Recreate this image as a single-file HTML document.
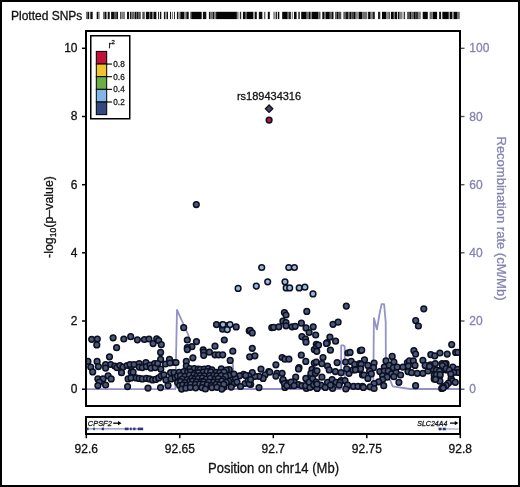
<!DOCTYPE html>
<html><head><meta charset="utf-8"><style>
html,body{margin:0;padding:0;background:#fff;}
svg{display:block;will-change:transform;}
</style></head><body>
<svg width="520" height="487" viewBox="0 0 520 487" font-family='"Liberation Sans", sans-serif'><rect x="0" y="0" width="520" height="487" fill="#fff"/><rect x="1" y="1" width="518" height="485" fill="none" stroke="#000" stroke-width="2"/><text x="11" y="19.6" font-size="12" fill="#111" stroke="#111" stroke-width="0.3">Plotted SNPs</text><rect x="86.0" y="11.8" width="1.50" height="7.3" fill="#6e6e6e"/><rect x="87.5" y="11.8" width="1.70" height="7.3" fill="#0f0f0f"/><rect x="90.3" y="11.8" width="2.40" height="7.3" fill="#0f0f0f"/><rect x="96.7" y="11.8" width="1.70" height="7.3" fill="#0f0f0f"/><rect x="98.4" y="11.8" width="1.20" height="7.3" fill="#6e6e6e"/><rect x="103.0" y="11.8" width="1.50" height="7.3" fill="#6e6e6e"/><rect x="104.5" y="11.8" width="2.00" height="7.3" fill="#0f0f0f"/><rect x="107.7" y="11.8" width="2.00" height="7.3" fill="#0f0f0f"/><rect x="111.1" y="11.8" width="2.90" height="7.3" fill="#0f0f0f"/><rect x="114.0" y="11.8" width="2.30" height="7.3" fill="#5a5a5a"/><rect x="116.3" y="11.8" width="1.70" height="7.3" fill="#141414"/><rect x="120.1" y="11.8" width="1.10" height="7.3" fill="#3c3c3c"/><rect x="121.2" y="11.8" width="2.30" height="7.3" fill="#828282"/><rect x="123.5" y="11.8" width="1.20" height="7.3" fill="#464646"/><rect x="127.0" y="11.8" width="2.00" height="7.3" fill="#0f0f0f"/><rect x="129.9" y="11.8" width="1.40" height="7.3" fill="#141414"/><rect x="131.3" y="11.8" width="3.50" height="7.3" fill="#646464"/><rect x="135.0" y="11.8" width="1.50" height="7.3" fill="#0a0a0a"/><rect x="136.8" y="11.8" width="1.40" height="7.3" fill="#141414"/><rect x="138.2" y="11.8" width="2.60" height="7.3" fill="#505050"/><rect x="142.3" y="11.8" width="1.70" height="7.3" fill="#505050"/><rect x="144.0" y="11.8" width="1.20" height="7.3" fill="#787878"/><rect x="146.0" y="11.8" width="3.20" height="7.3" fill="#0a0a0a"/><rect x="149.2" y="11.8" width="0.90" height="7.3" fill="#646464"/><rect x="150.1" y="11.8" width="2.00" height="7.3" fill="#0a0a0a"/><rect x="152.1" y="11.8" width="1.70" height="7.3" fill="#6e6e6e"/><rect x="153.8" y="11.8" width="2.60" height="7.3" fill="#0a0a0a"/><rect x="158.1" y="11.8" width="1.00" height="7.3" fill="#141414"/><rect x="160.0" y="11.8" width="1.30" height="7.3" fill="#141414"/><rect x="163.9" y="11.8" width="1.50" height="7.3" fill="#141414"/><rect x="165.4" y="11.8" width="1.40" height="7.3" fill="#8c8c8c"/><rect x="166.8" y="11.8" width="1.20" height="7.3" fill="#141414"/><rect x="170.0" y="11.8" width="1.10" height="7.3" fill="#141414"/><rect x="172.0" y="11.8" width="0.90" height="7.3" fill="#6e6e6e"/><rect x="174.0" y="11.8" width="0.90" height="7.3" fill="#141414"/><rect x="176.9" y="11.8" width="1.10" height="7.3" fill="#141414"/><rect x="178.0" y="11.8" width="1.80" height="7.3" fill="#969696"/><rect x="179.8" y="11.8" width="1.10" height="7.3" fill="#3c3c3c"/><rect x="180.9" y="11.8" width="3.20" height="7.3" fill="#0a0a0a"/><rect x="184.1" y="11.8" width="2.30" height="7.3" fill="#828282"/><rect x="186.4" y="11.8" width="2.30" height="7.3" fill="#0f0f0f"/><rect x="190.2" y="11.8" width="1.10" height="7.3" fill="#646464"/><rect x="191.3" y="11.8" width="10.40" height="7.3" fill="#050505"/><rect x="202.9" y="11.8" width="3.40" height="7.3" fill="#0f0f0f"/><rect x="208.9" y="11.8" width="1.20" height="7.3" fill="#141414"/><rect x="210.1" y="11.8" width="1.40" height="7.3" fill="#6e6e6e"/><rect x="211.5" y="11.8" width="0.60" height="7.3" fill="#282828"/><rect x="212.1" y="11.8" width="0.60" height="7.3" fill="#6e6e6e"/><rect x="212.7" y="11.8" width="1.70" height="7.3" fill="#141414"/><rect x="214.4" y="11.8" width="1.70" height="7.3" fill="#787878"/><rect x="216.1" y="11.8" width="20.80" height="7.3" fill="#050505"/><rect x="236.9" y="11.8" width="1.70" height="7.3" fill="#828282"/><rect x="239.8" y="11.8" width="1.40" height="7.3" fill="#282828"/><rect x="242.9" y="11.8" width="2.10" height="7.3" fill="#0a0a0a"/><rect x="245.0" y="11.8" width="2.00" height="7.3" fill="#5a5a5a"/><rect x="247.0" y="11.8" width="6.00" height="7.3" fill="#050505"/><rect x="253.0" y="11.8" width="1.50" height="7.3" fill="#969696"/><rect x="254.8" y="11.8" width="2.00" height="7.3" fill="#0a0a0a"/><rect x="258.8" y="11.8" width="3.20" height="7.3" fill="#0f0f0f"/><rect x="262.0" y="11.8" width="0.90" height="7.3" fill="#969696"/><rect x="264.0" y="11.8" width="1.40" height="7.3" fill="#646464"/><rect x="267.8" y="11.8" width="2.00" height="7.3" fill="#0a0a0a"/><rect x="273.2" y="11.8" width="2.30" height="7.3" fill="#8c8c8c"/><rect x="275.8" y="11.8" width="1.20" height="7.3" fill="#282828"/><rect x="277.8" y="11.8" width="1.50" height="7.3" fill="#0a0a0a"/><rect x="282.2" y="11.8" width="5.50" height="7.3" fill="#050505"/><rect x="287.7" y="11.8" width="1.40" height="7.3" fill="#6e6e6e"/><rect x="289.1" y="11.8" width="1.70" height="7.3" fill="#0a0a0a"/><rect x="291.7" y="11.8" width="1.20" height="7.3" fill="#828282"/><rect x="294.0" y="11.8" width="2.60" height="7.3" fill="#0a0a0a"/><rect x="298.3" y="11.8" width="1.50" height="7.3" fill="#1e1e1e"/><rect x="301.2" y="11.8" width="5.50" height="7.3" fill="#050505"/><rect x="306.7" y="11.8" width="2.00" height="7.3" fill="#6e6e6e"/><rect x="308.7" y="11.8" width="2.00" height="7.3" fill="#0a0a0a"/><rect x="310.7" y="11.8" width="1.20" height="7.3" fill="#828282"/><rect x="311.9" y="11.8" width="6.30" height="7.3" fill="#050505"/><rect x="318.2" y="11.8" width="2.30" height="7.3" fill="#5a5a5a"/><rect x="322.3" y="11.8" width="1.70" height="7.3" fill="#0a0a0a"/><rect x="324.0" y="11.8" width="1.70" height="7.3" fill="#6e6e6e"/><rect x="325.7" y="11.8" width="4.10" height="7.3" fill="#050505"/><rect x="329.8" y="11.8" width="1.70" height="7.3" fill="#646464"/><rect x="331.5" y="11.8" width="2.00" height="7.3" fill="#0f0f0f"/><rect x="335.0" y="11.8" width="1.70" height="7.3" fill="#5a5a5a"/><rect x="336.7" y="11.8" width="1.40" height="7.3" fill="#0f0f0f"/><rect x="338.1" y="11.8" width="3.20" height="7.3" fill="#505050"/><rect x="343.3" y="11.8" width="2.60" height="7.3" fill="#5a5a5a"/><rect x="345.9" y="11.8" width="2.30" height="7.3" fill="#141414"/><rect x="348.2" y="11.8" width="1.20" height="7.3" fill="#646464"/><rect x="349.4" y="11.8" width="2.00" height="7.3" fill="#0a0a0a"/><rect x="351.4" y="11.8" width="2.60" height="7.3" fill="#464646"/><rect x="354.0" y="11.8" width="1.70" height="7.3" fill="#0a0a0a"/><rect x="355.7" y="11.8" width="3.20" height="7.3" fill="#8c8c8c"/><rect x="358.9" y="11.8" width="3.20" height="7.3" fill="#050505"/><rect x="362.1" y="11.8" width="5.20" height="7.3" fill="#6e6e6e"/><rect x="368.1" y="11.8" width="2.60" height="7.3" fill="#0a0a0a"/><rect x="370.7" y="11.8" width="1.80" height="7.3" fill="#8c8c8c"/><rect x="372.5" y="11.8" width="2.30" height="7.3" fill="#1e1e1e"/><rect x="378.0" y="11.8" width="2.30" height="7.3" fill="#282828"/><rect x="382.0" y="11.8" width="4.00" height="7.3" fill="#050505"/><rect x="386.0" y="11.8" width="2.60" height="7.3" fill="#8c8c8c"/><rect x="388.6" y="11.8" width="1.20" height="7.3" fill="#323232"/><rect x="390.9" y="11.8" width="2.90" height="7.3" fill="#050505"/><rect x="393.8" y="11.8" width="1.20" height="7.3" fill="#787878"/><rect x="395.0" y="11.8" width="2.00" height="7.3" fill="#0a0a0a"/><rect x="397.8" y="11.8" width="1.80" height="7.3" fill="#0f0f0f"/><rect x="399.6" y="11.8" width="2.90" height="7.3" fill="#828282"/><rect x="403.6" y="11.8" width="1.50" height="7.3" fill="#3c3c3c"/><rect x="407.1" y="11.8" width="2.30" height="7.3" fill="#505050"/><rect x="409.4" y="11.8" width="2.00" height="7.3" fill="#0a0a0a"/><rect x="411.4" y="11.8" width="2.60" height="7.3" fill="#646464"/><rect x="414.0" y="11.8" width="1.70" height="7.3" fill="#0a0a0a"/><rect x="415.7" y="11.8" width="2.90" height="7.3" fill="#323232"/><rect x="418.6" y="11.8" width="2.30" height="7.3" fill="#828282"/><rect x="422.7" y="11.8" width="5.10" height="7.3" fill="#0a0a0a"/><rect x="429.6" y="11.8" width="2.30" height="7.3" fill="#646464"/><rect x="432.5" y="11.8" width="4.60" height="7.3" fill="#050505"/><rect x="439.1" y="11.8" width="2.00" height="7.3" fill="#141414"/><rect x="442.3" y="11.8" width="0.70" height="7.3" fill="#141414"/><rect x="443.0" y="11.8" width="5.80" height="7.3" fill="#050505"/><rect x="448.8" y="11.8" width="1.20" height="7.3" fill="#969696"/><rect x="450.0" y="11.8" width="2.30" height="7.3" fill="#0a0a0a"/><rect x="452.3" y="11.8" width="1.50" height="7.3" fill="#828282"/><rect x="453.8" y="11.8" width="3.20" height="7.3" fill="#050505"/><rect x="457.0" y="11.8" width="2.80" height="7.3" fill="#6e6e6e"/><polyline points="86.0,389.1 175.4,389.0 177.0,309.8 188.3,335.0 189.2,338.5" fill="none" stroke="#9492c8" stroke-width="1.8" stroke-linejoin="round"/><polyline points="193.0,389.0 232.0,389.0 232.8,363.0 234.0,389.0 340.9,389.0 341.2,345.3 343.2,345.3 344.7,346.5 345.0,389.0 373.3,389.0 373.9,318.1 376.9,329.4 379.8,312.5 381.6,304.2 384.1,304.2 385.7,322.0 385.9,375.0 390.5,381.0 392.7,386.3 410.0,389.0 460.0,389.0" fill="none" stroke="#9492c8" stroke-width="1.8" stroke-linejoin="round"/><defs><clipPath id="pc"><rect x="86" y="31" width="374" height="375"/></clipPath></defs><g clip-path="url(#pc)"><circle cx="196.3" cy="204.6" r="2.85" fill="#4b5778" stroke="#0c1020" stroke-width="1.5"/><circle cx="91.7" cy="339.3" r="2.85" fill="#4b5778" stroke="#0c1020" stroke-width="1.5"/><circle cx="97.3" cy="339.0" r="2.85" fill="#4b5778" stroke="#0c1020" stroke-width="1.5"/><circle cx="96.8" cy="344.9" r="2.85" fill="#4b5778" stroke="#0c1020" stroke-width="1.5"/><circle cx="113.1" cy="337.8" r="2.85" fill="#4b5778" stroke="#0c1020" stroke-width="1.5"/><circle cx="123.8" cy="339.0" r="2.85" fill="#4b5778" stroke="#0c1020" stroke-width="1.5"/><circle cx="130.7" cy="336.7" r="2.85" fill="#4b5778" stroke="#0c1020" stroke-width="1.5"/><circle cx="116.6" cy="347.7" r="2.85" fill="#4b5778" stroke="#0c1020" stroke-width="1.5"/><circle cx="109.5" cy="356.8" r="2.85" fill="#4b5778" stroke="#0c1020" stroke-width="1.5"/><circle cx="87.9" cy="361.4" r="2.85" fill="#4b5778" stroke="#0c1020" stroke-width="1.5"/><circle cx="97.1" cy="361.4" r="2.85" fill="#4b5778" stroke="#0c1020" stroke-width="1.5"/><circle cx="90.7" cy="367.1" r="2.85" fill="#4b5778" stroke="#0c1020" stroke-width="1.5"/><circle cx="98.4" cy="366.6" r="2.85" fill="#4b5778" stroke="#0c1020" stroke-width="1.5"/><circle cx="92.7" cy="371.9" r="2.85" fill="#4b5778" stroke="#0c1020" stroke-width="1.5"/><circle cx="105.6" cy="364.5" r="2.85" fill="#4b5778" stroke="#0c1020" stroke-width="1.5"/><circle cx="105.6" cy="368.1" r="2.85" fill="#4b5778" stroke="#0c1020" stroke-width="1.5"/><circle cx="110.7" cy="364.5" r="2.85" fill="#4b5778" stroke="#0c1020" stroke-width="1.5"/><circle cx="114.8" cy="366.0" r="2.85" fill="#4b5778" stroke="#0c1020" stroke-width="1.5"/><circle cx="116.9" cy="367.6" r="2.85" fill="#4b5778" stroke="#0c1020" stroke-width="1.5"/><circle cx="119.9" cy="365.5" r="2.85" fill="#4b5778" stroke="#0c1020" stroke-width="1.5"/><circle cx="123.0" cy="367.1" r="2.85" fill="#4b5778" stroke="#0c1020" stroke-width="1.5"/><circle cx="121.5" cy="372.7" r="2.85" fill="#4b5778" stroke="#0c1020" stroke-width="1.5"/><circle cx="127.1" cy="365.5" r="2.85" fill="#4b5778" stroke="#0c1020" stroke-width="1.5"/><circle cx="131.2" cy="366.6" r="2.85" fill="#4b5778" stroke="#0c1020" stroke-width="1.5"/><circle cx="131.2" cy="372.2" r="2.85" fill="#4b5778" stroke="#0c1020" stroke-width="1.5"/><circle cx="128.1" cy="378.9" r="2.85" fill="#4b5778" stroke="#0c1020" stroke-width="1.5"/><circle cx="97.9" cy="378.9" r="2.85" fill="#4b5778" stroke="#0c1020" stroke-width="1.5"/><circle cx="103.0" cy="378.9" r="2.85" fill="#4b5778" stroke="#0c1020" stroke-width="1.5"/><circle cx="108.1" cy="375.8" r="2.85" fill="#4b5778" stroke="#0c1020" stroke-width="1.5"/><circle cx="111.2" cy="378.9" r="2.85" fill="#4b5778" stroke="#0c1020" stroke-width="1.5"/><circle cx="99.4" cy="382.0" r="2.85" fill="#4b5778" stroke="#0c1020" stroke-width="1.5"/><circle cx="97.9" cy="385.6" r="2.85" fill="#4b5778" stroke="#0c1020" stroke-width="1.5"/><circle cx="105.6" cy="385.0" r="2.85" fill="#4b5778" stroke="#0c1020" stroke-width="1.5"/><circle cx="127.6" cy="386.6" r="2.85" fill="#4b5778" stroke="#0c1020" stroke-width="1.5"/><circle cx="137.4" cy="339.8" r="2.85" fill="#4b5778" stroke="#0c1020" stroke-width="1.5"/><circle cx="144.4" cy="339.5" r="2.85" fill="#4b5778" stroke="#0c1020" stroke-width="1.5"/><circle cx="149.0" cy="339.0" r="2.85" fill="#4b5778" stroke="#0c1020" stroke-width="1.5"/><circle cx="153.1" cy="343.6" r="2.85" fill="#4b5778" stroke="#0c1020" stroke-width="1.5"/><circle cx="156.7" cy="338.8" r="2.85" fill="#4b5778" stroke="#0c1020" stroke-width="1.5"/><circle cx="158.7" cy="340.6" r="2.85" fill="#4b5778" stroke="#0c1020" stroke-width="1.5"/><circle cx="161.3" cy="344.7" r="2.85" fill="#4b5778" stroke="#0c1020" stroke-width="1.5"/><circle cx="160.6" cy="352.4" r="2.85" fill="#4b5778" stroke="#0c1020" stroke-width="1.5"/><circle cx="160.6" cy="359.4" r="2.85" fill="#4b5778" stroke="#0c1020" stroke-width="1.5"/><circle cx="169.5" cy="359.4" r="2.85" fill="#4b5778" stroke="#0c1020" stroke-width="1.5"/><circle cx="174.7" cy="362.5" r="2.85" fill="#4b5778" stroke="#0c1020" stroke-width="1.5"/><circle cx="130.0" cy="364.5" r="2.85" fill="#4b5778" stroke="#0c1020" stroke-width="1.5"/><circle cx="134.1" cy="364.5" r="2.85" fill="#4b5778" stroke="#0c1020" stroke-width="1.5"/><circle cx="139.2" cy="363.5" r="2.85" fill="#4b5778" stroke="#0c1020" stroke-width="1.5"/><circle cx="139.2" cy="367.1" r="2.85" fill="#4b5778" stroke="#0c1020" stroke-width="1.5"/><circle cx="142.3" cy="367.6" r="2.85" fill="#4b5778" stroke="#0c1020" stroke-width="1.5"/><circle cx="145.9" cy="362.5" r="2.85" fill="#4b5778" stroke="#0c1020" stroke-width="1.5"/><circle cx="146.4" cy="366.6" r="2.85" fill="#4b5778" stroke="#0c1020" stroke-width="1.5"/><circle cx="150.0" cy="365.0" r="2.85" fill="#4b5778" stroke="#0c1020" stroke-width="1.5"/><circle cx="151.0" cy="368.1" r="2.85" fill="#4b5778" stroke="#0c1020" stroke-width="1.5"/><circle cx="154.6" cy="363.5" r="2.85" fill="#4b5778" stroke="#0c1020" stroke-width="1.5"/><circle cx="155.2" cy="367.6" r="2.85" fill="#4b5778" stroke="#0c1020" stroke-width="1.5"/><circle cx="157.7" cy="363.5" r="2.85" fill="#4b5778" stroke="#0c1020" stroke-width="1.5"/><circle cx="160.8" cy="369.1" r="2.85" fill="#4b5778" stroke="#0c1020" stroke-width="1.5"/><circle cx="165.4" cy="364.0" r="2.85" fill="#4b5778" stroke="#0c1020" stroke-width="1.5"/><circle cx="170.0" cy="363.0" r="2.85" fill="#4b5778" stroke="#0c1020" stroke-width="1.5"/><circle cx="133.1" cy="372.2" r="2.85" fill="#4b5778" stroke="#0c1020" stroke-width="1.5"/><circle cx="131.0" cy="377.9" r="2.85" fill="#4b5778" stroke="#0c1020" stroke-width="1.5"/><circle cx="136.2" cy="377.9" r="2.85" fill="#4b5778" stroke="#0c1020" stroke-width="1.5"/><circle cx="139.2" cy="378.4" r="2.85" fill="#4b5778" stroke="#0c1020" stroke-width="1.5"/><circle cx="142.3" cy="378.9" r="2.85" fill="#4b5778" stroke="#0c1020" stroke-width="1.5"/><circle cx="146.4" cy="378.4" r="2.85" fill="#4b5778" stroke="#0c1020" stroke-width="1.5"/><circle cx="149.5" cy="378.9" r="2.85" fill="#4b5778" stroke="#0c1020" stroke-width="1.5"/><circle cx="152.6" cy="379.9" r="2.85" fill="#4b5778" stroke="#0c1020" stroke-width="1.5"/><circle cx="155.7" cy="379.4" r="2.85" fill="#4b5778" stroke="#0c1020" stroke-width="1.5"/><circle cx="158.7" cy="377.9" r="2.85" fill="#4b5778" stroke="#0c1020" stroke-width="1.5"/><circle cx="161.3" cy="375.8" r="2.85" fill="#4b5778" stroke="#0c1020" stroke-width="1.5"/><circle cx="163.9" cy="374.8" r="2.85" fill="#4b5778" stroke="#0c1020" stroke-width="1.5"/><circle cx="165.9" cy="379.9" r="2.85" fill="#4b5778" stroke="#0c1020" stroke-width="1.5"/><circle cx="170.6" cy="372.7" r="2.85" fill="#4b5778" stroke="#0c1020" stroke-width="1.5"/><circle cx="174.1" cy="372.7" r="2.85" fill="#4b5778" stroke="#0c1020" stroke-width="1.5"/><circle cx="171.1" cy="378.9" r="2.85" fill="#4b5778" stroke="#0c1020" stroke-width="1.5"/><circle cx="175.2" cy="377.9" r="2.85" fill="#4b5778" stroke="#0c1020" stroke-width="1.5"/><circle cx="178.3" cy="374.8" r="2.85" fill="#4b5778" stroke="#0c1020" stroke-width="1.5"/><circle cx="178.3" cy="379.9" r="2.85" fill="#4b5778" stroke="#0c1020" stroke-width="1.5"/><circle cx="148.0" cy="388.1" r="2.85" fill="#4b5778" stroke="#0c1020" stroke-width="1.5"/><circle cx="160.6" cy="387.6" r="2.85" fill="#4b5778" stroke="#0c1020" stroke-width="1.5"/><circle cx="168.0" cy="385.6" r="2.85" fill="#4b5778" stroke="#0c1020" stroke-width="1.5"/><circle cx="183.7" cy="327.7" r="2.85" fill="#4b5778" stroke="#0c1020" stroke-width="1.5"/><circle cx="187.3" cy="340.0" r="2.85" fill="#4b5778" stroke="#0c1020" stroke-width="1.5"/><circle cx="196.5" cy="341.6" r="2.85" fill="#4b5778" stroke="#0c1020" stroke-width="1.5"/><circle cx="191.9" cy="346.7" r="2.85" fill="#4b5778" stroke="#0c1020" stroke-width="1.5"/><circle cx="187.3" cy="347.7" r="2.85" fill="#4b5778" stroke="#0c1020" stroke-width="1.5"/><circle cx="203.2" cy="349.8" r="2.85" fill="#4b5778" stroke="#0c1020" stroke-width="1.5"/><circle cx="215.0" cy="346.2" r="2.85" fill="#4b5778" stroke="#0c1020" stroke-width="1.5"/><circle cx="216.5" cy="324.6" r="2.85" fill="#4b5778" stroke="#0c1020" stroke-width="1.5"/><circle cx="225.3" cy="325.7" r="2.85" fill="#4b5778" stroke="#0c1020" stroke-width="1.5"/><circle cx="224.3" cy="340.0" r="2.85" fill="#4b5778" stroke="#0c1020" stroke-width="1.5"/><circle cx="236.2" cy="326.9" r="2.85" fill="#4b5778" stroke="#0c1020" stroke-width="1.5"/><circle cx="249.2" cy="330.8" r="2.85" fill="#4b5778" stroke="#0c1020" stroke-width="1.5"/><circle cx="187.3" cy="349.6" r="2.85" fill="#4b5778" stroke="#0c1020" stroke-width="1.5"/><circle cx="192.9" cy="357.8" r="2.85" fill="#4b5778" stroke="#0c1020" stroke-width="1.5"/><circle cx="203.7" cy="352.2" r="2.85" fill="#4b5778" stroke="#0c1020" stroke-width="1.5"/><circle cx="203.7" cy="355.3" r="2.85" fill="#4b5778" stroke="#0c1020" stroke-width="1.5"/><circle cx="209.4" cy="352.2" r="2.85" fill="#4b5778" stroke="#0c1020" stroke-width="1.5"/><circle cx="215.0" cy="354.8" r="2.85" fill="#4b5778" stroke="#0c1020" stroke-width="1.5"/><circle cx="218.6" cy="354.8" r="2.85" fill="#4b5778" stroke="#0c1020" stroke-width="1.5"/><circle cx="222.7" cy="354.8" r="2.85" fill="#4b5778" stroke="#0c1020" stroke-width="1.5"/><circle cx="186.3" cy="361.4" r="2.85" fill="#4b5778" stroke="#0c1020" stroke-width="1.5"/><circle cx="176.0" cy="362.5" r="2.85" fill="#4b5778" stroke="#0c1020" stroke-width="1.5"/><circle cx="186.3" cy="366.0" r="2.85" fill="#4b5778" stroke="#0c1020" stroke-width="1.5"/><circle cx="250.2" cy="330.3" r="2.85" fill="#4b5778" stroke="#0c1020" stroke-width="1.5"/><circle cx="252.3" cy="332.9" r="2.85" fill="#4b5778" stroke="#0c1020" stroke-width="1.5"/><circle cx="271.8" cy="327.7" r="2.85" fill="#4b5778" stroke="#0c1020" stroke-width="1.5"/><circle cx="252.3" cy="348.3" r="2.85" fill="#4b5778" stroke="#0c1020" stroke-width="1.5"/><circle cx="232.8" cy="351.2" r="2.85" fill="#4b5778" stroke="#0c1020" stroke-width="1.5"/><circle cx="230.2" cy="360.4" r="2.85" fill="#4b5778" stroke="#0c1020" stroke-width="1.5"/><circle cx="249.7" cy="356.8" r="2.85" fill="#4b5778" stroke="#0c1020" stroke-width="1.5"/><circle cx="254.9" cy="355.8" r="2.85" fill="#4b5778" stroke="#0c1020" stroke-width="1.5"/><circle cx="229.2" cy="369.6" r="2.85" fill="#4b5778" stroke="#0c1020" stroke-width="1.5"/><circle cx="261.0" cy="369.1" r="2.85" fill="#4b5778" stroke="#0c1020" stroke-width="1.5"/><circle cx="268.7" cy="371.7" r="2.85" fill="#4b5778" stroke="#0c1020" stroke-width="1.5"/><circle cx="265.1" cy="374.8" r="2.85" fill="#4b5778" stroke="#0c1020" stroke-width="1.5"/><circle cx="263.1" cy="378.4" r="2.85" fill="#4b5778" stroke="#0c1020" stroke-width="1.5"/><circle cx="259.0" cy="376.3" r="2.85" fill="#4b5778" stroke="#0c1020" stroke-width="1.5"/><circle cx="254.9" cy="376.3" r="2.85" fill="#4b5778" stroke="#0c1020" stroke-width="1.5"/><circle cx="252.3" cy="372.7" r="2.85" fill="#4b5778" stroke="#0c1020" stroke-width="1.5"/><circle cx="248.7" cy="375.8" r="2.85" fill="#4b5778" stroke="#0c1020" stroke-width="1.5"/><circle cx="243.6" cy="374.3" r="2.85" fill="#4b5778" stroke="#0c1020" stroke-width="1.5"/><circle cx="239.5" cy="375.8" r="2.85" fill="#4b5778" stroke="#0c1020" stroke-width="1.5"/><circle cx="235.3" cy="377.9" r="2.85" fill="#4b5778" stroke="#0c1020" stroke-width="1.5"/><circle cx="232.3" cy="374.3" r="2.85" fill="#4b5778" stroke="#0c1020" stroke-width="1.5"/><circle cx="226.1" cy="374.8" r="2.85" fill="#4b5778" stroke="#0c1020" stroke-width="1.5"/><circle cx="223.0" cy="372.7" r="2.85" fill="#4b5778" stroke="#0c1020" stroke-width="1.5"/><circle cx="222.0" cy="378.9" r="2.85" fill="#4b5778" stroke="#0c1020" stroke-width="1.5"/><circle cx="227.1" cy="380.9" r="2.85" fill="#4b5778" stroke="#0c1020" stroke-width="1.5"/><circle cx="234.3" cy="383.5" r="2.85" fill="#4b5778" stroke="#0c1020" stroke-width="1.5"/><circle cx="231.2" cy="387.1" r="2.85" fill="#4b5778" stroke="#0c1020" stroke-width="1.5"/><circle cx="224.0" cy="387.1" r="2.85" fill="#4b5778" stroke="#0c1020" stroke-width="1.5"/><circle cx="245.1" cy="383.5" r="2.85" fill="#4b5778" stroke="#0c1020" stroke-width="1.5"/><circle cx="250.7" cy="384.5" r="2.85" fill="#4b5778" stroke="#0c1020" stroke-width="1.5"/><circle cx="248.2" cy="380.4" r="2.85" fill="#4b5778" stroke="#0c1020" stroke-width="1.5"/><circle cx="259.0" cy="387.6" r="2.85" fill="#4b5778" stroke="#0c1020" stroke-width="1.5"/><circle cx="284.4" cy="312.5" r="2.85" fill="#4b5778" stroke="#0c1020" stroke-width="1.5"/><circle cx="286.0" cy="315.0" r="2.85" fill="#4b5778" stroke="#0c1020" stroke-width="1.5"/><circle cx="306.8" cy="311.4" r="2.85" fill="#4b5778" stroke="#0c1020" stroke-width="1.5"/><circle cx="282.9" cy="321.2" r="2.85" fill="#4b5778" stroke="#0c1020" stroke-width="1.5"/><circle cx="286.0" cy="322.7" r="2.85" fill="#4b5778" stroke="#0c1020" stroke-width="1.5"/><circle cx="273.6" cy="327.3" r="2.85" fill="#4b5778" stroke="#0c1020" stroke-width="1.5"/><circle cx="278.8" cy="326.8" r="2.85" fill="#4b5778" stroke="#0c1020" stroke-width="1.5"/><circle cx="286.0" cy="325.8" r="2.85" fill="#4b5778" stroke="#0c1020" stroke-width="1.5"/><circle cx="292.1" cy="326.8" r="2.85" fill="#4b5778" stroke="#0c1020" stroke-width="1.5"/><circle cx="295.2" cy="326.3" r="2.85" fill="#4b5778" stroke="#0c1020" stroke-width="1.5"/><circle cx="301.4" cy="323.2" r="2.85" fill="#4b5778" stroke="#0c1020" stroke-width="1.5"/><circle cx="306.0" cy="327.9" r="2.85" fill="#4b5778" stroke="#0c1020" stroke-width="1.5"/><circle cx="313.2" cy="326.8" r="2.85" fill="#4b5778" stroke="#0c1020" stroke-width="1.5"/><circle cx="309.1" cy="332.5" r="2.85" fill="#4b5778" stroke="#0c1020" stroke-width="1.5"/><circle cx="315.7" cy="335.0" r="2.85" fill="#4b5778" stroke="#0c1020" stroke-width="1.5"/><circle cx="301.9" cy="336.6" r="2.85" fill="#4b5778" stroke="#0c1020" stroke-width="1.5"/><circle cx="305.5" cy="339.1" r="2.85" fill="#4b5778" stroke="#0c1020" stroke-width="1.5"/><circle cx="306.0" cy="342.2" r="2.85" fill="#4b5778" stroke="#0c1020" stroke-width="1.5"/><circle cx="316.3" cy="344.3" r="2.85" fill="#4b5778" stroke="#0c1020" stroke-width="1.5"/><circle cx="314.3" cy="349.6" r="2.85" fill="#4b5778" stroke="#0c1020" stroke-width="1.5"/><circle cx="316.5" cy="346.8" r="2.85" fill="#4b5778" stroke="#0c1020" stroke-width="1.5"/><circle cx="282.1" cy="357.5" r="2.85" fill="#4b5778" stroke="#0c1020" stroke-width="1.5"/><circle cx="284.9" cy="359.2" r="2.85" fill="#4b5778" stroke="#0c1020" stroke-width="1.5"/><circle cx="288.9" cy="359.2" r="2.85" fill="#4b5778" stroke="#0c1020" stroke-width="1.5"/><circle cx="301.3" cy="355.2" r="2.85" fill="#4b5778" stroke="#0c1020" stroke-width="1.5"/><circle cx="305.8" cy="361.4" r="2.85" fill="#4b5778" stroke="#0c1020" stroke-width="1.5"/><circle cx="314.3" cy="363.1" r="2.85" fill="#4b5778" stroke="#0c1020" stroke-width="1.5"/><circle cx="275.9" cy="364.8" r="2.85" fill="#4b5778" stroke="#0c1020" stroke-width="1.5"/><circle cx="299.0" cy="367.7" r="2.85" fill="#4b5778" stroke="#0c1020" stroke-width="1.5"/><circle cx="269.7" cy="372.2" r="2.85" fill="#4b5778" stroke="#0c1020" stroke-width="1.5"/><circle cx="277.0" cy="373.3" r="2.85" fill="#4b5778" stroke="#0c1020" stroke-width="1.5"/><circle cx="282.1" cy="373.3" r="2.85" fill="#4b5778" stroke="#0c1020" stroke-width="1.5"/><circle cx="275.9" cy="376.1" r="2.85" fill="#4b5778" stroke="#0c1020" stroke-width="1.5"/><circle cx="312.0" cy="369.3" r="2.85" fill="#4b5778" stroke="#0c1020" stroke-width="1.5"/><circle cx="315.4" cy="371.0" r="2.85" fill="#4b5778" stroke="#0c1020" stroke-width="1.5"/><circle cx="295.7" cy="377.2" r="2.85" fill="#4b5778" stroke="#0c1020" stroke-width="1.5"/><circle cx="305.8" cy="378.4" r="2.85" fill="#4b5778" stroke="#0c1020" stroke-width="1.5"/><circle cx="310.9" cy="376.1" r="2.85" fill="#4b5778" stroke="#0c1020" stroke-width="1.5"/><circle cx="282.7" cy="380.6" r="2.85" fill="#4b5778" stroke="#0c1020" stroke-width="1.5"/><circle cx="286.1" cy="382.9" r="2.85" fill="#4b5778" stroke="#0c1020" stroke-width="1.5"/><circle cx="290.6" cy="385.7" r="2.85" fill="#4b5778" stroke="#0c1020" stroke-width="1.5"/><circle cx="294.0" cy="381.8" r="2.85" fill="#4b5778" stroke="#0c1020" stroke-width="1.5"/><circle cx="298.5" cy="384.6" r="2.85" fill="#4b5778" stroke="#0c1020" stroke-width="1.5"/><circle cx="301.9" cy="385.7" r="2.85" fill="#4b5778" stroke="#0c1020" stroke-width="1.5"/><circle cx="307.5" cy="385.1" r="2.85" fill="#4b5778" stroke="#0c1020" stroke-width="1.5"/><circle cx="312.0" cy="382.9" r="2.85" fill="#4b5778" stroke="#0c1020" stroke-width="1.5"/><circle cx="315.4" cy="386.3" r="2.85" fill="#4b5778" stroke="#0c1020" stroke-width="1.5"/><circle cx="284.9" cy="387.4" r="2.85" fill="#4b5778" stroke="#0c1020" stroke-width="1.5"/><circle cx="306.4" cy="388.5" r="2.85" fill="#4b5778" stroke="#0c1020" stroke-width="1.5"/><circle cx="346.3" cy="306.1" r="2.85" fill="#4b5778" stroke="#0c1020" stroke-width="1.5"/><circle cx="333.0" cy="324.3" r="2.85" fill="#4b5778" stroke="#0c1020" stroke-width="1.5"/><circle cx="338.1" cy="322.2" r="2.85" fill="#4b5778" stroke="#0c1020" stroke-width="1.5"/><circle cx="329.9" cy="337.1" r="2.85" fill="#4b5778" stroke="#0c1020" stroke-width="1.5"/><circle cx="335.6" cy="341.2" r="2.85" fill="#4b5778" stroke="#0c1020" stroke-width="1.5"/><circle cx="327.3" cy="342.7" r="2.85" fill="#4b5778" stroke="#0c1020" stroke-width="1.5"/><circle cx="318.5" cy="345.1" r="2.85" fill="#4b5778" stroke="#0c1020" stroke-width="1.5"/><circle cx="326.4" cy="343.4" r="2.85" fill="#4b5778" stroke="#0c1020" stroke-width="1.5"/><circle cx="316.8" cy="351.3" r="2.85" fill="#4b5778" stroke="#0c1020" stroke-width="1.5"/><circle cx="330.4" cy="350.2" r="2.85" fill="#4b5778" stroke="#0c1020" stroke-width="1.5"/><circle cx="323.0" cy="357.5" r="2.85" fill="#4b5778" stroke="#0c1020" stroke-width="1.5"/><circle cx="316.3" cy="362.0" r="2.85" fill="#4b5778" stroke="#0c1020" stroke-width="1.5"/><circle cx="321.9" cy="363.7" r="2.85" fill="#4b5778" stroke="#0c1020" stroke-width="1.5"/><circle cx="327.5" cy="366.0" r="2.85" fill="#4b5778" stroke="#0c1020" stroke-width="1.5"/><circle cx="329.2" cy="369.9" r="2.85" fill="#4b5778" stroke="#0c1020" stroke-width="1.5"/><circle cx="337.1" cy="362.6" r="2.85" fill="#4b5778" stroke="#0c1020" stroke-width="1.5"/><circle cx="347.9" cy="353.0" r="2.85" fill="#4b5778" stroke="#0c1020" stroke-width="1.5"/><circle cx="350.1" cy="352.4" r="2.85" fill="#4b5778" stroke="#0c1020" stroke-width="1.5"/><circle cx="345.6" cy="362.0" r="2.85" fill="#4b5778" stroke="#0c1020" stroke-width="1.5"/><circle cx="351.2" cy="361.4" r="2.85" fill="#4b5778" stroke="#0c1020" stroke-width="1.5"/><circle cx="354.6" cy="364.3" r="2.85" fill="#4b5778" stroke="#0c1020" stroke-width="1.5"/><circle cx="359.7" cy="363.7" r="2.85" fill="#4b5778" stroke="#0c1020" stroke-width="1.5"/><circle cx="360.3" cy="350.7" r="2.85" fill="#4b5778" stroke="#0c1020" stroke-width="1.5"/><circle cx="321.9" cy="377.2" r="2.85" fill="#4b5778" stroke="#0c1020" stroke-width="1.5"/><circle cx="335.4" cy="371.6" r="2.85" fill="#4b5778" stroke="#0c1020" stroke-width="1.5"/><circle cx="341.1" cy="372.7" r="2.85" fill="#4b5778" stroke="#0c1020" stroke-width="1.5"/><circle cx="349.0" cy="373.3" r="2.85" fill="#4b5778" stroke="#0c1020" stroke-width="1.5"/><circle cx="353.0" cy="369.9" r="2.85" fill="#4b5778" stroke="#0c1020" stroke-width="1.5"/><circle cx="359.1" cy="369.3" r="2.85" fill="#4b5778" stroke="#0c1020" stroke-width="1.5"/><circle cx="362.5" cy="375.0" r="2.85" fill="#4b5778" stroke="#0c1020" stroke-width="1.5"/><circle cx="346.7" cy="368.8" r="2.85" fill="#4b5778" stroke="#0c1020" stroke-width="1.5"/><circle cx="315.1" cy="382.9" r="2.85" fill="#4b5778" stroke="#0c1020" stroke-width="1.5"/><circle cx="320.8" cy="385.1" r="2.85" fill="#4b5778" stroke="#0c1020" stroke-width="1.5"/><circle cx="325.3" cy="387.4" r="2.85" fill="#4b5778" stroke="#0c1020" stroke-width="1.5"/><circle cx="327.5" cy="382.3" r="2.85" fill="#4b5778" stroke="#0c1020" stroke-width="1.5"/><circle cx="332.1" cy="379.5" r="2.85" fill="#4b5778" stroke="#0c1020" stroke-width="1.5"/><circle cx="332.6" cy="388.5" r="2.85" fill="#4b5778" stroke="#0c1020" stroke-width="1.5"/><circle cx="337.7" cy="382.9" r="2.85" fill="#4b5778" stroke="#0c1020" stroke-width="1.5"/><circle cx="341.1" cy="380.6" r="2.85" fill="#4b5778" stroke="#0c1020" stroke-width="1.5"/><circle cx="345.0" cy="380.6" r="2.85" fill="#4b5778" stroke="#0c1020" stroke-width="1.5"/><circle cx="347.3" cy="386.3" r="2.85" fill="#4b5778" stroke="#0c1020" stroke-width="1.5"/><circle cx="353.5" cy="386.3" r="2.85" fill="#4b5778" stroke="#0c1020" stroke-width="1.5"/><circle cx="358.0" cy="386.3" r="2.85" fill="#4b5778" stroke="#0c1020" stroke-width="1.5"/><circle cx="362.5" cy="386.3" r="2.85" fill="#4b5778" stroke="#0c1020" stroke-width="1.5"/><circle cx="361.7" cy="350.2" r="2.85" fill="#4b5778" stroke="#0c1020" stroke-width="1.5"/><circle cx="364.5" cy="359.8" r="2.85" fill="#4b5778" stroke="#0c1020" stroke-width="1.5"/><circle cx="361.1" cy="364.3" r="2.85" fill="#4b5778" stroke="#0c1020" stroke-width="1.5"/><circle cx="367.9" cy="365.4" r="2.85" fill="#4b5778" stroke="#0c1020" stroke-width="1.5"/><circle cx="374.1" cy="363.1" r="2.85" fill="#4b5778" stroke="#0c1020" stroke-width="1.5"/><circle cx="373.5" cy="367.7" r="2.85" fill="#4b5778" stroke="#0c1020" stroke-width="1.5"/><circle cx="360.6" cy="368.8" r="2.85" fill="#4b5778" stroke="#0c1020" stroke-width="1.5"/><circle cx="369.6" cy="371.0" r="2.85" fill="#4b5778" stroke="#0c1020" stroke-width="1.5"/><circle cx="364.0" cy="375.0" r="2.85" fill="#4b5778" stroke="#0c1020" stroke-width="1.5"/><circle cx="371.3" cy="373.9" r="2.85" fill="#4b5778" stroke="#0c1020" stroke-width="1.5"/><circle cx="367.9" cy="378.4" r="2.85" fill="#4b5778" stroke="#0c1020" stroke-width="1.5"/><circle cx="392.2" cy="356.4" r="2.85" fill="#4b5778" stroke="#0c1020" stroke-width="1.5"/><circle cx="386.0" cy="360.9" r="2.85" fill="#4b5778" stroke="#0c1020" stroke-width="1.5"/><circle cx="393.9" cy="362.0" r="2.85" fill="#4b5778" stroke="#0c1020" stroke-width="1.5"/><circle cx="384.3" cy="367.1" r="2.85" fill="#4b5778" stroke="#0c1020" stroke-width="1.5"/><circle cx="389.3" cy="365.4" r="2.85" fill="#4b5778" stroke="#0c1020" stroke-width="1.5"/><circle cx="393.3" cy="367.7" r="2.85" fill="#4b5778" stroke="#0c1020" stroke-width="1.5"/><circle cx="397.2" cy="367.1" r="2.85" fill="#4b5778" stroke="#0c1020" stroke-width="1.5"/><circle cx="379.8" cy="371.6" r="2.85" fill="#4b5778" stroke="#0c1020" stroke-width="1.5"/><circle cx="384.3" cy="371.0" r="2.85" fill="#4b5778" stroke="#0c1020" stroke-width="1.5"/><circle cx="388.2" cy="371.0" r="2.85" fill="#4b5778" stroke="#0c1020" stroke-width="1.5"/><circle cx="391.6" cy="373.9" r="2.85" fill="#4b5778" stroke="#0c1020" stroke-width="1.5"/><circle cx="396.1" cy="372.7" r="2.85" fill="#4b5778" stroke="#0c1020" stroke-width="1.5"/><circle cx="400.6" cy="375.0" r="2.85" fill="#4b5778" stroke="#0c1020" stroke-width="1.5"/><circle cx="382.6" cy="375.6" r="2.85" fill="#4b5778" stroke="#0c1020" stroke-width="1.5"/><circle cx="387.1" cy="377.2" r="2.85" fill="#4b5778" stroke="#0c1020" stroke-width="1.5"/><circle cx="393.9" cy="376.7" r="2.85" fill="#4b5778" stroke="#0c1020" stroke-width="1.5"/><circle cx="382.6" cy="379.5" r="2.85" fill="#4b5778" stroke="#0c1020" stroke-width="1.5"/><circle cx="378.6" cy="381.8" r="2.85" fill="#4b5778" stroke="#0c1020" stroke-width="1.5"/><circle cx="374.1" cy="383.5" r="2.85" fill="#4b5778" stroke="#0c1020" stroke-width="1.5"/><circle cx="370.2" cy="386.8" r="2.85" fill="#4b5778" stroke="#0c1020" stroke-width="1.5"/><circle cx="374.1" cy="388.5" r="2.85" fill="#4b5778" stroke="#0c1020" stroke-width="1.5"/><circle cx="363.4" cy="387.4" r="2.85" fill="#4b5778" stroke="#0c1020" stroke-width="1.5"/><circle cx="383.7" cy="385.7" r="2.85" fill="#4b5778" stroke="#0c1020" stroke-width="1.5"/><circle cx="398.9" cy="382.3" r="2.85" fill="#4b5778" stroke="#0c1020" stroke-width="1.5"/><circle cx="402.9" cy="367.1" r="2.85" fill="#4b5778" stroke="#0c1020" stroke-width="1.5"/><circle cx="407.4" cy="362.6" r="2.85" fill="#4b5778" stroke="#0c1020" stroke-width="1.5"/><circle cx="408.0" cy="371.6" r="2.85" fill="#4b5778" stroke="#0c1020" stroke-width="1.5"/><circle cx="423.8" cy="308.8" r="2.85" fill="#4b5778" stroke="#0c1020" stroke-width="1.5"/><circle cx="415.7" cy="320.6" r="2.85" fill="#4b5778" stroke="#0c1020" stroke-width="1.5"/><circle cx="418.4" cy="326.0" r="2.85" fill="#4b5778" stroke="#0c1020" stroke-width="1.5"/><circle cx="451.7" cy="344.6" r="2.85" fill="#4b5778" stroke="#0c1020" stroke-width="1.5"/><circle cx="413.9" cy="350.7" r="2.85" fill="#4b5778" stroke="#0c1020" stroke-width="1.5"/><circle cx="415.6" cy="354.1" r="2.85" fill="#4b5778" stroke="#0c1020" stroke-width="1.5"/><circle cx="430.8" cy="354.7" r="2.85" fill="#4b5778" stroke="#0c1020" stroke-width="1.5"/><circle cx="434.8" cy="355.8" r="2.85" fill="#4b5778" stroke="#0c1020" stroke-width="1.5"/><circle cx="439.9" cy="353.0" r="2.85" fill="#4b5778" stroke="#0c1020" stroke-width="1.5"/><circle cx="447.2" cy="354.1" r="2.85" fill="#4b5778" stroke="#0c1020" stroke-width="1.5"/><circle cx="455.7" cy="352.4" r="2.85" fill="#4b5778" stroke="#0c1020" stroke-width="1.5"/><circle cx="457.9" cy="352.4" r="2.85" fill="#4b5778" stroke="#0c1020" stroke-width="1.5"/><circle cx="409.4" cy="360.9" r="2.85" fill="#4b5778" stroke="#0c1020" stroke-width="1.5"/><circle cx="413.3" cy="360.9" r="2.85" fill="#4b5778" stroke="#0c1020" stroke-width="1.5"/><circle cx="422.9" cy="360.3" r="2.85" fill="#4b5778" stroke="#0c1020" stroke-width="1.5"/><circle cx="415.0" cy="365.4" r="2.85" fill="#4b5778" stroke="#0c1020" stroke-width="1.5"/><circle cx="408.3" cy="366.0" r="2.85" fill="#4b5778" stroke="#0c1020" stroke-width="1.5"/><circle cx="425.2" cy="365.4" r="2.85" fill="#4b5778" stroke="#0c1020" stroke-width="1.5"/><circle cx="430.3" cy="364.8" r="2.85" fill="#4b5778" stroke="#0c1020" stroke-width="1.5"/><circle cx="435.3" cy="363.7" r="2.85" fill="#4b5778" stroke="#0c1020" stroke-width="1.5"/><circle cx="442.1" cy="363.7" r="2.85" fill="#4b5778" stroke="#0c1020" stroke-width="1.5"/><circle cx="446.1" cy="363.7" r="2.85" fill="#4b5778" stroke="#0c1020" stroke-width="1.5"/><circle cx="452.8" cy="367.1" r="2.85" fill="#4b5778" stroke="#0c1020" stroke-width="1.5"/><circle cx="457.4" cy="369.3" r="2.85" fill="#4b5778" stroke="#0c1020" stroke-width="1.5"/><circle cx="411.6" cy="372.7" r="2.85" fill="#4b5778" stroke="#0c1020" stroke-width="1.5"/><circle cx="417.3" cy="373.3" r="2.85" fill="#4b5778" stroke="#0c1020" stroke-width="1.5"/><circle cx="422.9" cy="373.3" r="2.85" fill="#4b5778" stroke="#0c1020" stroke-width="1.5"/><circle cx="428.0" cy="371.0" r="2.85" fill="#4b5778" stroke="#0c1020" stroke-width="1.5"/><circle cx="433.1" cy="369.3" r="2.85" fill="#4b5778" stroke="#0c1020" stroke-width="1.5"/><circle cx="437.6" cy="370.5" r="2.85" fill="#4b5778" stroke="#0c1020" stroke-width="1.5"/><circle cx="442.1" cy="369.9" r="2.85" fill="#4b5778" stroke="#0c1020" stroke-width="1.5"/><circle cx="446.6" cy="369.9" r="2.85" fill="#4b5778" stroke="#0c1020" stroke-width="1.5"/><circle cx="434.2" cy="375.0" r="2.85" fill="#4b5778" stroke="#0c1020" stroke-width="1.5"/><circle cx="439.9" cy="376.1" r="2.85" fill="#4b5778" stroke="#0c1020" stroke-width="1.5"/><circle cx="434.2" cy="378.9" r="2.85" fill="#4b5778" stroke="#0c1020" stroke-width="1.5"/><circle cx="439.9" cy="381.2" r="2.85" fill="#4b5778" stroke="#0c1020" stroke-width="1.5"/><circle cx="451.1" cy="378.4" r="2.85" fill="#4b5778" stroke="#0c1020" stroke-width="1.5"/><circle cx="444.7" cy="364.1" r="2.85" fill="#4b5778" stroke="#0c1020" stroke-width="1.5"/><circle cx="442.4" cy="365.6" r="2.85" fill="#4b5778" stroke="#0c1020" stroke-width="1.5"/><circle cx="429.5" cy="366.4" r="2.85" fill="#4b5778" stroke="#0c1020" stroke-width="1.5"/><circle cx="436.4" cy="370.2" r="2.85" fill="#4b5778" stroke="#0c1020" stroke-width="1.5"/><circle cx="439.4" cy="371.0" r="2.85" fill="#4b5778" stroke="#0c1020" stroke-width="1.5"/><circle cx="446.2" cy="368.7" r="2.85" fill="#4b5778" stroke="#0c1020" stroke-width="1.5"/><circle cx="449.3" cy="370.2" r="2.85" fill="#4b5778" stroke="#0c1020" stroke-width="1.5"/><circle cx="457.6" cy="372.5" r="2.85" fill="#4b5778" stroke="#0c1020" stroke-width="1.5"/><circle cx="453.8" cy="372.5" r="2.85" fill="#4b5778" stroke="#0c1020" stroke-width="1.5"/><circle cx="450.8" cy="374.0" r="2.85" fill="#4b5778" stroke="#0c1020" stroke-width="1.5"/><circle cx="436.4" cy="374.7" r="2.85" fill="#4b5778" stroke="#0c1020" stroke-width="1.5"/><circle cx="440.1" cy="374.7" r="2.85" fill="#4b5778" stroke="#0c1020" stroke-width="1.5"/><circle cx="435.6" cy="379.3" r="2.85" fill="#4b5778" stroke="#0c1020" stroke-width="1.5"/><circle cx="452.3" cy="380.8" r="2.85" fill="#4b5778" stroke="#0c1020" stroke-width="1.5"/><circle cx="455.3" cy="382.3" r="2.85" fill="#4b5778" stroke="#0c1020" stroke-width="1.5"/><circle cx="448.5" cy="383.1" r="2.85" fill="#4b5778" stroke="#0c1020" stroke-width="1.5"/><circle cx="446.2" cy="385.4" r="2.85" fill="#4b5778" stroke="#0c1020" stroke-width="1.5"/><circle cx="443.2" cy="386.9" r="2.85" fill="#4b5778" stroke="#0c1020" stroke-width="1.5"/><circle cx="441.7" cy="388.4" r="2.85" fill="#4b5778" stroke="#0c1020" stroke-width="1.5"/><circle cx="283.1" cy="379.5" r="2.85" fill="#4b5778" stroke="#0c1020" stroke-width="1.5"/><circle cx="284.4" cy="383.5" r="2.85" fill="#4b5778" stroke="#0c1020" stroke-width="1.5"/><circle cx="287.0" cy="385.7" r="2.85" fill="#4b5778" stroke="#0c1020" stroke-width="1.5"/><circle cx="291.0" cy="382.2" r="2.85" fill="#4b5778" stroke="#0c1020" stroke-width="1.5"/><circle cx="294.1" cy="385.7" r="2.85" fill="#4b5778" stroke="#0c1020" stroke-width="1.5"/><circle cx="305.6" cy="385.7" r="2.85" fill="#4b5778" stroke="#0c1020" stroke-width="1.5"/><circle cx="309.2" cy="382.2" r="2.85" fill="#4b5778" stroke="#0c1020" stroke-width="1.5"/><circle cx="310.0" cy="387.5" r="2.85" fill="#4b5778" stroke="#0c1020" stroke-width="1.5"/><circle cx="312.7" cy="378.6" r="2.85" fill="#4b5778" stroke="#0c1020" stroke-width="1.5"/><circle cx="313.6" cy="384.8" r="2.85" fill="#4b5778" stroke="#0c1020" stroke-width="1.5"/><circle cx="310.9" cy="373.3" r="2.85" fill="#4b5778" stroke="#0c1020" stroke-width="1.5"/><circle cx="315.4" cy="373.3" r="2.85" fill="#4b5778" stroke="#0c1020" stroke-width="1.5"/><circle cx="316.2" cy="382.2" r="2.85" fill="#4b5778" stroke="#0c1020" stroke-width="1.5"/><circle cx="317.1" cy="388.4" r="2.85" fill="#4b5778" stroke="#0c1020" stroke-width="1.5"/><circle cx="298.5" cy="368.9" r="2.85" fill="#4b5778" stroke="#0c1020" stroke-width="1.5"/><circle cx="317.0" cy="370.8" r="2.85" fill="#4b5778" stroke="#0c1020" stroke-width="1.5"/><circle cx="355.4" cy="369.8" r="2.85" fill="#4b5778" stroke="#0c1020" stroke-width="1.5"/><circle cx="336.2" cy="382.3" r="2.85" fill="#4b5778" stroke="#0c1020" stroke-width="1.5"/><circle cx="340.0" cy="382.3" r="2.85" fill="#4b5778" stroke="#0c1020" stroke-width="1.5"/><circle cx="330.4" cy="385.2" r="2.85" fill="#4b5778" stroke="#0c1020" stroke-width="1.5"/><circle cx="339.1" cy="385.2" r="2.85" fill="#4b5778" stroke="#0c1020" stroke-width="1.5"/><circle cx="347.7" cy="385.2" r="2.85" fill="#4b5778" stroke="#0c1020" stroke-width="1.5"/><circle cx="345.8" cy="389.0" r="2.85" fill="#4b5778" stroke="#0c1020" stroke-width="1.5"/><circle cx="317.0" cy="384.2" r="2.85" fill="#4b5778" stroke="#0c1020" stroke-width="1.5"/><circle cx="229.0" cy="375.4" r="2.85" fill="#4b5778" stroke="#0c1020" stroke-width="1.5"/><circle cx="233.9" cy="374.0" r="2.85" fill="#4b5778" stroke="#0c1020" stroke-width="1.5"/><circle cx="228.6" cy="381.0" r="2.85" fill="#4b5778" stroke="#0c1020" stroke-width="1.5"/><circle cx="245.7" cy="375.4" r="2.85" fill="#4b5778" stroke="#0c1020" stroke-width="1.5"/><circle cx="249.2" cy="383.8" r="2.85" fill="#4b5778" stroke="#0c1020" stroke-width="1.5"/><circle cx="250.6" cy="379.6" r="2.85" fill="#4b5778" stroke="#0c1020" stroke-width="1.5"/><circle cx="237.0" cy="382.0" r="2.85" fill="#4b5778" stroke="#0c1020" stroke-width="1.5"/><circle cx="240.5" cy="386.5" r="2.85" fill="#4b5778" stroke="#0c1020" stroke-width="1.5"/><circle cx="222.6" cy="329.2" r="2.85" fill="#4b5778" stroke="#0c1020" stroke-width="1.5"/><circle cx="443.2" cy="388.0" r="2.85" fill="#4b5778" stroke="#0c1020" stroke-width="1.5"/><circle cx="415.6" cy="385.7" r="2.85" fill="#4b5778" stroke="#0c1020" stroke-width="1.5"/><circle cx="189.7" cy="368.7" r="2.85" fill="#4b5778" stroke="#0c1020" stroke-width="1.5"/><circle cx="194.3" cy="368.5" r="2.85" fill="#4b5778" stroke="#0c1020" stroke-width="1.5"/><circle cx="198.1" cy="369.1" r="2.85" fill="#4b5778" stroke="#0c1020" stroke-width="1.5"/><circle cx="200.2" cy="369.3" r="2.85" fill="#4b5778" stroke="#0c1020" stroke-width="1.5"/><circle cx="204.2" cy="369.2" r="2.85" fill="#4b5778" stroke="#0c1020" stroke-width="1.5"/><circle cx="208.2" cy="368.6" r="2.85" fill="#4b5778" stroke="#0c1020" stroke-width="1.5"/><circle cx="211.9" cy="369.9" r="2.85" fill="#4b5778" stroke="#0c1020" stroke-width="1.5"/><circle cx="221.3" cy="368.8" r="2.85" fill="#4b5778" stroke="#0c1020" stroke-width="1.5"/><circle cx="226.2" cy="370.1" r="2.85" fill="#4b5778" stroke="#0c1020" stroke-width="1.5"/><circle cx="179.1" cy="372.3" r="2.85" fill="#4b5778" stroke="#0c1020" stroke-width="1.5"/><circle cx="183.9" cy="371.6" r="2.85" fill="#4b5778" stroke="#0c1020" stroke-width="1.5"/><circle cx="187.6" cy="372.1" r="2.85" fill="#4b5778" stroke="#0c1020" stroke-width="1.5"/><circle cx="190.4" cy="371.8" r="2.85" fill="#4b5778" stroke="#0c1020" stroke-width="1.5"/><circle cx="194.7" cy="373.0" r="2.85" fill="#4b5778" stroke="#0c1020" stroke-width="1.5"/><circle cx="198.4" cy="372.6" r="2.85" fill="#4b5778" stroke="#0c1020" stroke-width="1.5"/><circle cx="203.3" cy="372.2" r="2.85" fill="#4b5778" stroke="#0c1020" stroke-width="1.5"/><circle cx="207.1" cy="371.7" r="2.85" fill="#4b5778" stroke="#0c1020" stroke-width="1.5"/><circle cx="210.7" cy="371.9" r="2.85" fill="#4b5778" stroke="#0c1020" stroke-width="1.5"/><circle cx="216.3" cy="372.3" r="2.85" fill="#4b5778" stroke="#0c1020" stroke-width="1.5"/><circle cx="219.7" cy="372.6" r="2.85" fill="#4b5778" stroke="#0c1020" stroke-width="1.5"/><circle cx="223.9" cy="372.1" r="2.85" fill="#4b5778" stroke="#0c1020" stroke-width="1.5"/><circle cx="177.5" cy="376.0" r="2.85" fill="#4b5778" stroke="#0c1020" stroke-width="1.5"/><circle cx="180.5" cy="375.7" r="2.85" fill="#4b5778" stroke="#0c1020" stroke-width="1.5"/><circle cx="185.0" cy="376.3" r="2.85" fill="#4b5778" stroke="#0c1020" stroke-width="1.5"/><circle cx="189.4" cy="375.2" r="2.85" fill="#4b5778" stroke="#0c1020" stroke-width="1.5"/><circle cx="193.9" cy="374.9" r="2.85" fill="#4b5778" stroke="#0c1020" stroke-width="1.5"/><circle cx="196.9" cy="376.1" r="2.85" fill="#4b5778" stroke="#0c1020" stroke-width="1.5"/><circle cx="200.4" cy="375.6" r="2.85" fill="#4b5778" stroke="#0c1020" stroke-width="1.5"/><circle cx="204.2" cy="375.9" r="2.85" fill="#4b5778" stroke="#0c1020" stroke-width="1.5"/><circle cx="209.5" cy="375.7" r="2.85" fill="#4b5778" stroke="#0c1020" stroke-width="1.5"/><circle cx="213.7" cy="375.3" r="2.85" fill="#4b5778" stroke="#0c1020" stroke-width="1.5"/><circle cx="216.9" cy="375.8" r="2.85" fill="#4b5778" stroke="#0c1020" stroke-width="1.5"/><circle cx="221.1" cy="375.5" r="2.85" fill="#4b5778" stroke="#0c1020" stroke-width="1.5"/><circle cx="225.6" cy="376.4" r="2.85" fill="#4b5778" stroke="#0c1020" stroke-width="1.5"/><circle cx="182.2" cy="379.1" r="2.85" fill="#4b5778" stroke="#0c1020" stroke-width="1.5"/><circle cx="187.3" cy="379.6" r="2.85" fill="#4b5778" stroke="#0c1020" stroke-width="1.5"/><circle cx="191.6" cy="378.4" r="2.85" fill="#4b5778" stroke="#0c1020" stroke-width="1.5"/><circle cx="194.8" cy="379.1" r="2.85" fill="#4b5778" stroke="#0c1020" stroke-width="1.5"/><circle cx="198.1" cy="378.7" r="2.85" fill="#4b5778" stroke="#0c1020" stroke-width="1.5"/><circle cx="202.4" cy="378.1" r="2.85" fill="#4b5778" stroke="#0c1020" stroke-width="1.5"/><circle cx="206.2" cy="379.2" r="2.85" fill="#4b5778" stroke="#0c1020" stroke-width="1.5"/><circle cx="210.3" cy="378.3" r="2.85" fill="#4b5778" stroke="#0c1020" stroke-width="1.5"/><circle cx="214.8" cy="379.4" r="2.85" fill="#4b5778" stroke="#0c1020" stroke-width="1.5"/><circle cx="218.2" cy="378.7" r="2.85" fill="#4b5778" stroke="#0c1020" stroke-width="1.5"/><circle cx="223.1" cy="379.4" r="2.85" fill="#4b5778" stroke="#0c1020" stroke-width="1.5"/><circle cx="177.6" cy="382.6" r="2.85" fill="#4b5778" stroke="#0c1020" stroke-width="1.5"/><circle cx="180.6" cy="381.7" r="2.85" fill="#4b5778" stroke="#0c1020" stroke-width="1.5"/><circle cx="184.7" cy="382.6" r="2.85" fill="#4b5778" stroke="#0c1020" stroke-width="1.5"/><circle cx="189.8" cy="381.3" r="2.85" fill="#4b5778" stroke="#0c1020" stroke-width="1.5"/><circle cx="192.4" cy="381.4" r="2.85" fill="#4b5778" stroke="#0c1020" stroke-width="1.5"/><circle cx="196.5" cy="381.9" r="2.85" fill="#4b5778" stroke="#0c1020" stroke-width="1.5"/><circle cx="201.2" cy="381.5" r="2.85" fill="#4b5778" stroke="#0c1020" stroke-width="1.5"/><circle cx="203.6" cy="381.8" r="2.85" fill="#4b5778" stroke="#0c1020" stroke-width="1.5"/><circle cx="208.8" cy="382.0" r="2.85" fill="#4b5778" stroke="#0c1020" stroke-width="1.5"/><circle cx="213.8" cy="382.2" r="2.85" fill="#4b5778" stroke="#0c1020" stroke-width="1.5"/><circle cx="217.5" cy="382.1" r="2.85" fill="#4b5778" stroke="#0c1020" stroke-width="1.5"/><circle cx="221.8" cy="381.1" r="2.85" fill="#4b5778" stroke="#0c1020" stroke-width="1.5"/><circle cx="226.2" cy="382.4" r="2.85" fill="#4b5778" stroke="#0c1020" stroke-width="1.5"/><circle cx="179.7" cy="385.6" r="2.85" fill="#4b5778" stroke="#0c1020" stroke-width="1.5"/><circle cx="182.8" cy="384.9" r="2.85" fill="#4b5778" stroke="#0c1020" stroke-width="1.5"/><circle cx="186.8" cy="385.3" r="2.85" fill="#4b5778" stroke="#0c1020" stroke-width="1.5"/><circle cx="190.7" cy="384.3" r="2.85" fill="#4b5778" stroke="#0c1020" stroke-width="1.5"/><circle cx="195.5" cy="384.4" r="2.85" fill="#4b5778" stroke="#0c1020" stroke-width="1.5"/><circle cx="199.7" cy="384.2" r="2.85" fill="#4b5778" stroke="#0c1020" stroke-width="1.5"/><circle cx="203.1" cy="384.4" r="2.85" fill="#4b5778" stroke="#0c1020" stroke-width="1.5"/><circle cx="207.3" cy="384.8" r="2.85" fill="#4b5778" stroke="#0c1020" stroke-width="1.5"/><circle cx="211.1" cy="385.7" r="2.85" fill="#4b5778" stroke="#0c1020" stroke-width="1.5"/><circle cx="216.2" cy="384.4" r="2.85" fill="#4b5778" stroke="#0c1020" stroke-width="1.5"/><circle cx="219.6" cy="384.8" r="2.85" fill="#4b5778" stroke="#0c1020" stroke-width="1.5"/><circle cx="223.8" cy="384.4" r="2.85" fill="#4b5778" stroke="#0c1020" stroke-width="1.5"/><circle cx="181.6" cy="389.1" r="2.85" fill="#4b5778" stroke="#0c1020" stroke-width="1.5"/><circle cx="185.9" cy="388.2" r="2.85" fill="#4b5778" stroke="#0c1020" stroke-width="1.5"/><circle cx="190.3" cy="387.5" r="2.85" fill="#4b5778" stroke="#0c1020" stroke-width="1.5"/><circle cx="195.7" cy="387.8" r="2.85" fill="#4b5778" stroke="#0c1020" stroke-width="1.5"/><circle cx="202.0" cy="387.6" r="2.85" fill="#4b5778" stroke="#0c1020" stroke-width="1.5"/><circle cx="205.4" cy="389.0" r="2.85" fill="#4b5778" stroke="#0c1020" stroke-width="1.5"/><circle cx="212.0" cy="387.6" r="2.85" fill="#4b5778" stroke="#0c1020" stroke-width="1.5"/><circle cx="216.9" cy="387.3" r="2.85" fill="#4b5778" stroke="#0c1020" stroke-width="1.5"/><circle cx="221.8" cy="389.1" r="2.85" fill="#4b5778" stroke="#0c1020" stroke-width="1.5"/><circle cx="221.9" cy="325.0" r="2.85" fill="#9ab5da" stroke="#0c1020" stroke-width="1.5"/><circle cx="227.3" cy="329.6" r="2.85" fill="#9ab5da" stroke="#0c1020" stroke-width="1.5"/><circle cx="230.0" cy="324.6" r="2.85" fill="#9ab5da" stroke="#0c1020" stroke-width="1.5"/><circle cx="223.0" cy="324.6" r="2.85" fill="#9ab5da" stroke="#0c1020" stroke-width="1.5"/><circle cx="238.1" cy="288.4" r="2.85" fill="#9ab5da" stroke="#0c1020" stroke-width="1.5"/><circle cx="256.3" cy="286.1" r="2.85" fill="#9ab5da" stroke="#0c1020" stroke-width="1.5"/><circle cx="261.7" cy="267.5" r="2.85" fill="#9ab5da" stroke="#0c1020" stroke-width="1.5"/><circle cx="267.7" cy="281.8" r="2.85" fill="#9ab5da" stroke="#0c1020" stroke-width="1.5"/><circle cx="285.0" cy="281.8" r="2.85" fill="#9ab5da" stroke="#0c1020" stroke-width="1.5"/><circle cx="286.2" cy="287.9" r="2.85" fill="#9ab5da" stroke="#0c1020" stroke-width="1.5"/><circle cx="289.7" cy="287.9" r="2.85" fill="#9ab5da" stroke="#0c1020" stroke-width="1.5"/><circle cx="288.8" cy="267.5" r="2.85" fill="#9ab5da" stroke="#0c1020" stroke-width="1.5"/><circle cx="294.4" cy="267.5" r="2.85" fill="#9ab5da" stroke="#0c1020" stroke-width="1.5"/><circle cx="299.2" cy="287.9" r="2.85" fill="#9ab5da" stroke="#0c1020" stroke-width="1.5"/><circle cx="304.9" cy="287.2" r="2.85" fill="#9ab5da" stroke="#0c1020" stroke-width="1.5"/><circle cx="313.0" cy="293.9" r="2.85" fill="#9ab5da" stroke="#0c1020" stroke-width="1.5"/><circle cx="269.1" cy="120.1" r="2.85" fill="#b5163a" stroke="#0c1020" stroke-width="1.5"/><path d="M269.1,105.0 L272.8,108.7 L269.1,112.4 L265.4,108.7 Z" fill="#4e3c72" stroke="#111" stroke-width="1.3"/></g><rect x="86" y="31" width="374" height="375" fill="none" stroke="#000" stroke-width="2"/><line x1="82" y1="389.2" x2="85" y2="389.2" stroke="#000" stroke-width="1.5"/><text x="77.5" y="393.0" font-size="12" text-anchor="end" fill="#111" stroke="#111" stroke-width="0.3">0</text><line x1="82" y1="321.0" x2="85" y2="321.0" stroke="#000" stroke-width="1.5"/><text x="77.5" y="324.8" font-size="12" text-anchor="end" fill="#111" stroke="#111" stroke-width="0.3">2</text><line x1="82" y1="252.8" x2="85" y2="252.8" stroke="#000" stroke-width="1.5"/><text x="77.5" y="256.6" font-size="12" text-anchor="end" fill="#111" stroke="#111" stroke-width="0.3">4</text><line x1="82" y1="184.7" x2="85" y2="184.7" stroke="#000" stroke-width="1.5"/><text x="77.5" y="188.5" font-size="12" text-anchor="end" fill="#111" stroke="#111" stroke-width="0.3">6</text><line x1="82" y1="116.5" x2="85" y2="116.5" stroke="#000" stroke-width="1.5"/><text x="77.5" y="120.3" font-size="12" text-anchor="end" fill="#111" stroke="#111" stroke-width="0.3">8</text><line x1="82" y1="48.3" x2="85" y2="48.3" stroke="#000" stroke-width="1.5"/><text x="77.5" y="52.1" font-size="12" text-anchor="end" fill="#111" stroke="#111" stroke-width="0.3">10</text><line x1="461" y1="389.2" x2="464.5" y2="389.2" stroke="#55546e" stroke-width="1.4"/><text x="469.3" y="393.3" font-size="12" fill="#8583b2" stroke="#8583b2" stroke-width="0.3">0</text><line x1="461" y1="321.0" x2="464.5" y2="321.0" stroke="#55546e" stroke-width="1.4"/><text x="469.3" y="325.1" font-size="12" fill="#8583b2" stroke="#8583b2" stroke-width="0.3">20</text><line x1="461" y1="252.8" x2="464.5" y2="252.8" stroke="#55546e" stroke-width="1.4"/><text x="469.3" y="256.9" font-size="12" fill="#8583b2" stroke="#8583b2" stroke-width="0.3">40</text><line x1="461" y1="184.7" x2="464.5" y2="184.7" stroke="#55546e" stroke-width="1.4"/><text x="469.3" y="188.8" font-size="12" fill="#8583b2" stroke="#8583b2" stroke-width="0.3">60</text><line x1="461" y1="116.5" x2="464.5" y2="116.5" stroke="#55546e" stroke-width="1.4"/><text x="469.3" y="120.6" font-size="12" fill="#8583b2" stroke="#8583b2" stroke-width="0.3">80</text><line x1="461" y1="48.3" x2="464.5" y2="48.3" stroke="#55546e" stroke-width="1.4"/><text x="469.3" y="52.4" font-size="12" fill="#8583b2" stroke="#8583b2" stroke-width="0.3">100</text><text transform="translate(53.3,217) rotate(-90)" font-size="13" text-anchor="middle" fill="#111" textLength="82" lengthAdjust="spacingAndGlyphs" stroke="#111" stroke-width="0.3">-log<tspan font-size="9" dy="3">10</tspan><tspan dy="-3">(p–value)</tspan></text><text transform="translate(496.8,218.5) rotate(90)" font-size="13" text-anchor="middle" fill="#8583b2" textLength="164" lengthAdjust="spacingAndGlyphs" stroke="#8583b2" stroke-width="0.3">Recombination rate (cM/Mb)</text><text x="269" y="99.7" font-size="11" text-anchor="middle" fill="#111" stroke="#111" stroke-width="0.3">rs189434316</text><rect x="90.75" y="35.75" width="39" height="83" fill="#fff" stroke="#000" stroke-width="1.5"/><rect x="96.3" y="51.40" width="10.4" height="12.65" fill="#c0123a" stroke="#000" stroke-width="1"/><rect x="96.3" y="64.05" width="10.4" height="12.65" fill="#f0c232" stroke="#000" stroke-width="1"/><rect x="96.3" y="76.70" width="10.4" height="12.65" fill="#6aae45" stroke="#000" stroke-width="1"/><rect x="96.3" y="89.35" width="10.4" height="12.65" fill="#82b6e6" stroke="#000" stroke-width="1"/><rect x="96.3" y="102.00" width="10.4" height="12.65" fill="#34497c" stroke="#000" stroke-width="1"/><line x1="106.7" y1="64.05" x2="112" y2="64.05" stroke="#000" stroke-width="1.1"/><text x="113.3" y="66.95" font-size="8.2" fill="#222" stroke="#222" stroke-width="0.3">0.8</text><line x1="106.7" y1="76.70" x2="112" y2="76.70" stroke="#000" stroke-width="1.1"/><text x="113.3" y="79.60" font-size="8.2" fill="#222" stroke="#222" stroke-width="0.3">0.6</text><line x1="106.7" y1="89.35" x2="112" y2="89.35" stroke="#000" stroke-width="1.1"/><text x="113.3" y="92.25" font-size="8.2" fill="#222" stroke="#222" stroke-width="0.3">0.4</text><line x1="106.7" y1="102.00" x2="112" y2="102.00" stroke="#000" stroke-width="1.1"/><text x="113.3" y="104.90" font-size="8.2" fill="#222" stroke="#222" stroke-width="0.3">0.2</text><text x="108.5" y="47.5" font-size="9" fill="#111" stroke="#111" stroke-width="0.3">r<tspan font-size="6" dy="-3.5">2</tspan></text><rect x="86" y="417" width="374" height="17" fill="none" stroke="#000" stroke-width="2"/><line x1="86.3" y1="434" x2="86.3" y2="438.2" stroke="#000" stroke-width="1.5"/><text x="86.3" y="453.2" font-size="12" text-anchor="middle" fill="#111" stroke="#111" stroke-width="0.3">92.6</text><line x1="179.8" y1="434" x2="179.8" y2="438.2" stroke="#000" stroke-width="1.5"/><text x="179.8" y="453.2" font-size="12" text-anchor="middle" fill="#111" stroke="#111" stroke-width="0.3">92.65</text><line x1="273.3" y1="434" x2="273.3" y2="438.2" stroke="#000" stroke-width="1.5"/><text x="273.3" y="453.2" font-size="12" text-anchor="middle" fill="#111" stroke="#111" stroke-width="0.3">92.7</text><line x1="366.8" y1="434" x2="366.8" y2="438.2" stroke="#000" stroke-width="1.5"/><text x="366.8" y="453.2" font-size="12" text-anchor="middle" fill="#111" stroke="#111" stroke-width="0.3">92.75</text><line x1="460.3" y1="434" x2="460.3" y2="438.2" stroke="#000" stroke-width="1.5"/><text x="460.3" y="453.2" font-size="12" text-anchor="middle" fill="#111" stroke="#111" stroke-width="0.3">92.8</text><text x="208" y="473.2" font-size="14.6" fill="#111" textLength="131" lengthAdjust="spacingAndGlyphs" stroke="#111" stroke-width="0.3">Position on chr14 (Mb)</text><text x="87.8" y="426" font-size="7.4" font-style="italic" fill="#1a1a1a" textLength="24" lengthAdjust="spacingAndGlyphs" stroke="#1a1a1a" stroke-width="0.3">CPSF2</text><path d="M113.2,423.2 h5.5" stroke="#000" stroke-width="1.3"/><path d="M118,421.1 l3.6,2.1 l-3.6,2.1 z" fill="#000"/><line x1="86.5" y1="428.9" x2="143" y2="428.9" stroke="#5a66a6" stroke-width="0.9"/><rect x="87" y="427.6" width="1.6" height="2.6" fill="#2e3a78"/><rect x="93.2" y="427.6" width="1.6" height="2.6" fill="#2e3a78"/><rect x="101.7" y="427.6" width="2.3" height="2.6" fill="#2e3a78"/><rect x="124.8" y="427.6" width="3.8" height="2.6" fill="#2e3a78"/><rect x="130" y="427.6" width="1.7" height="2.6" fill="#2e3a78"/><rect x="133.2" y="427.6" width="2.3" height="2.6" fill="#2e3a78"/><rect x="137.8" y="427.6" width="5.4" height="2.6" fill="#2e3a78"/><text x="417.3" y="425.6" font-size="7.2" font-style="italic" fill="#1a1a1a" textLength="30" lengthAdjust="spacingAndGlyphs" stroke="#1a1a1a" stroke-width="0.3">SLC24A4</text><path d="M450,423.1 h5" stroke="#000" stroke-width="1.3"/><path d="M454.8,421 l3.6,2.1 l-3.6,2.1 z" fill="#000"/><line x1="438.6" y1="429" x2="458.5" y2="429" stroke="#8a90bc" stroke-width="1"/><rect x="438.6" y="427.7" width="2.9" height="2.6" fill="#2e3a78"/><rect x="442.8" y="427.7" width="3.0" height="2.6" fill="#2e3a78"/></svg>
</body></html>
